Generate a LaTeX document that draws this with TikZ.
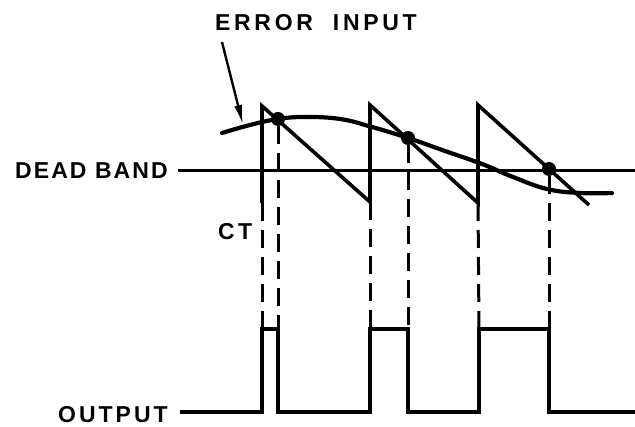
\documentclass[tikz,border=0pt]{standalone}
\usepackage{fontspec}
\setmainfont{Liberation Sans}
\usetikzlibrary{arrows.meta}
\tikzset{
  lbl/.style={inner sep=0pt, anchor=base west, font=\fontsize{23}{25}\selectfont\bfseries},
  sawline/.style={line width=3.6pt, line join=miter},
  errcurve/.style={line width=4.2pt, line cap=round},
  dbline/.style={line width=3pt},
  guide/.style={line width=3pt, dash pattern=on 18pt off 9pt},
  pulse/.style={line width=3.4pt, line join=miter},
  callout/.style={-{Latex[length=20pt, width=8pt]}, line width=2.4pt},
  dot/.style={circle, fill=black, inner sep=0pt, minimum size=14pt}
}
\begin{document}
\begin{tikzpicture}[x=1pt, y=-1pt]
  \useasboundingbox (0,0) rectangle (635,427);

  % labels
  \node[lbl] (err) at (215,31) {\addfontfeature{LetterSpace=16}ERROR\hspace{20pt}INPUT};
  \node[lbl] (db) at (15,179) {\addfontfeature{LetterSpace=9}DEAD BAND};
  \node[lbl] (ct) at (218,240) {\addfontfeature{LetterSpace=14}CT};
  \node[lbl] (out) at (58,423) {\addfontfeature{LetterSpace=13}OUTPUT};

  % dead band level
  \coordinate (dbL) at (178,171);
  \coordinate (dbR) at (635,171);
  \draw[dbline] (dbL) -- (dbR);

  % error input
  \draw[errcurve] plot[smooth, tension=0.7] coordinates {
    (222,133) (250,125) (278,119) (305,117) (340,119) (372,127)
    (408,138) (445,151) (482,164) (513,177) (547,189) (580,193) (612,193)};
  \coordinate (arrS) at (222,42);
  \coordinate (arrE) at (243,125);
  \draw[callout] (arrS) -- (arrE);

  % sawtooth
  \coordinate (b1) at (262,203);
  \coordinate (t1) at (262,106);
  \coordinate (b2) at (370,202);
  \coordinate (t2) at (370,105);
  \coordinate (b3) at (478,203);
  \coordinate (t3) at (478,105);
  \coordinate (e3) at (589,205);
  \draw[sawline] (b1) -- (t1) -- (b2) -- (t2) -- (b3) -- (t3) -- (e3);

  % crossing points
  \node[dot] (p1) at (278,119) {};
  \node[dot] (p2) at (408,138) {};
  \node[dot] (p3) at (549,169) {};

  % output
  \coordinate (oL) at (180,412);
  \coordinate (oR) at (635,412);
  \draw[pulse] (oL) -- (262,412) -- (262,329) -- (278,329) -- (278,412)
    -- (370,412) -- (370,329) -- (408,329) -- (408,412)
    -- (479,412) -- (479,329) -- (549,329) -- (549,412) -- (oR);

  % projections
  \foreach \a/\x in {b1/262, p1/278, b2/370, p2/408, b3/479, p3/549}{
    \draw[guide] (\a) -- (\x,329);
  }
\end{tikzpicture}
\end{document}
